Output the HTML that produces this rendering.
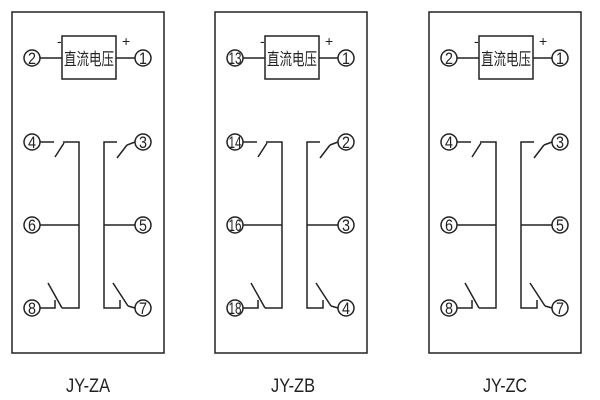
<!DOCTYPE html>
<html><head><meta charset="utf-8"><style>
html,body{margin:0;padding:0;background:#fff;width:600px;height:400px;overflow:hidden}
text{font-family:"Liberation Sans","Noto Sans CJK SC",sans-serif;fill:#222}
</style></head><body>
<svg width="600" height="400" viewBox="0 0 600 400" xmlns="http://www.w3.org/2000/svg">
<defs>
<g id="p" stroke="#222" stroke-width="1.5" fill="none">
<rect x="12" y="12" width="152" height="341"/>
<circle cx="32" cy="58" r="8"/><circle cx="143" cy="58" r="8"/>
<rect x="62" y="36" width="54" height="43"/>
<line x1="40" y1="58" x2="62" y2="58"/><line x1="116" y1="58" x2="135" y2="58"/>
<circle cx="32" cy="142" r="8"/><circle cx="32" cy="225" r="8"/><circle cx="32" cy="308" r="8"/>
<circle cx="143" cy="142" r="8"/><circle cx="143" cy="225" r="8"/><circle cx="143" cy="308" r="8"/>
<polyline points="40,142 54,142"/><line x1="55" y1="157" x2="64" y2="143"/><polyline points="63,142 79,142 79,308 62,308"/>
<line x1="40" y1="225" x2="79" y2="225"/>
<polyline points="40,308 55,308 55,300"/><line x1="48" y1="283" x2="62" y2="308"/>
<polyline points="117,142 104,142 104,308 120,308 120,300"/><line x1="117" y1="158" x2="127" y2="145"/><line x1="127" y1="145" x2="135" y2="142"/>
<line x1="104" y1="225" x2="135" y2="225"/>
<line x1="113" y1="283" x2="128" y2="306"/><line x1="128" y1="306" x2="135" y2="308"/>
</g>
<g id="t">
<text x="64" y="65" font-size="17" textLength="50" lengthAdjust="spacingAndGlyphs">直流电压</text>
<text x="57" y="46" font-size="14">-</text>
<text x="122" y="46" font-size="14">+</text>
</g>
</defs>
<g><use href="#p"/><use href="#t"/></g>
<g transform="translate(203,0)"><use href="#p"/><use href="#t"/></g>
<g transform="translate(417,0)"><use href="#p"/><use href="#t"/></g>
<g font-size="17" text-anchor="middle">
<text x="32" y="64" textLength="8" lengthAdjust="spacingAndGlyphs">2</text><text x="143" y="64" textLength="8" lengthAdjust="spacingAndGlyphs">1</text>
<text x="32" y="148" textLength="8" lengthAdjust="spacingAndGlyphs">4</text><text x="143" y="148" textLength="8" lengthAdjust="spacingAndGlyphs">3</text>
<text x="32" y="231" textLength="8" lengthAdjust="spacingAndGlyphs">6</text><text x="143" y="231" textLength="8" lengthAdjust="spacingAndGlyphs">5</text>
<text x="32" y="314" textLength="8" lengthAdjust="spacingAndGlyphs">8</text><text x="143" y="314" textLength="8" lengthAdjust="spacingAndGlyphs">7</text>
<text x="235" y="64" textLength="13" lengthAdjust="spacingAndGlyphs">13</text><text x="346" y="64" textLength="8" lengthAdjust="spacingAndGlyphs">1</text>
<text x="235" y="148" textLength="13" lengthAdjust="spacingAndGlyphs">14</text><text x="346" y="148" textLength="8" lengthAdjust="spacingAndGlyphs">2</text>
<text x="235" y="231" textLength="13" lengthAdjust="spacingAndGlyphs">16</text><text x="346" y="231" textLength="8" lengthAdjust="spacingAndGlyphs">3</text>
<text x="235" y="314" textLength="13" lengthAdjust="spacingAndGlyphs">18</text><text x="346" y="314" textLength="8" lengthAdjust="spacingAndGlyphs">4</text>
<text x="449" y="64" textLength="8" lengthAdjust="spacingAndGlyphs">2</text><text x="560" y="64" textLength="8" lengthAdjust="spacingAndGlyphs">1</text>
<text x="449" y="148" textLength="8" lengthAdjust="spacingAndGlyphs">4</text><text x="560" y="148" textLength="8" lengthAdjust="spacingAndGlyphs">3</text>
<text x="449" y="231" textLength="8" lengthAdjust="spacingAndGlyphs">6</text><text x="560" y="231" textLength="8" lengthAdjust="spacingAndGlyphs">5</text>
<text x="449" y="314" textLength="8" lengthAdjust="spacingAndGlyphs">8</text><text x="560" y="314" textLength="8" lengthAdjust="spacingAndGlyphs">7</text>
</g>
<g font-size="19" text-anchor="middle">
<text x="88" y="392" textLength="44" lengthAdjust="spacingAndGlyphs">JY-ZA</text>
<text x="293" y="392" textLength="44" lengthAdjust="spacingAndGlyphs">JY-ZB</text>
<text x="505" y="392" textLength="44" lengthAdjust="spacingAndGlyphs">JY-ZC</text>
</g>
</svg>
</body></html>
